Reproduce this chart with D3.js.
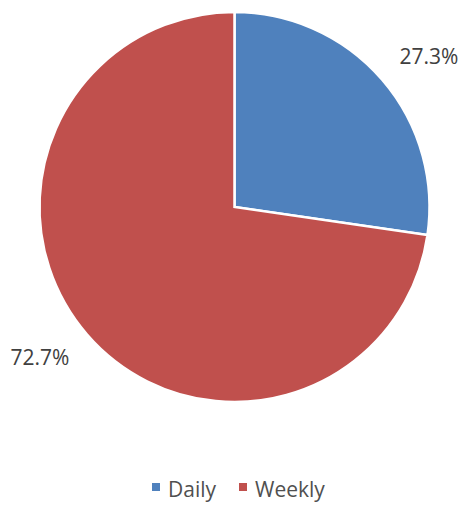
<!DOCTYPE html>
<html>
<head>
<meta charset="utf-8">
<script src="https://cdn.jsdelivr.net/npm/d3@7"></script>
<style>
  html, body { margin: 0; padding: 0; background: #fff; }
  svg { display: block; font-family: "Open Sans", "Liberation Sans", sans-serif; }
</style>
</head>
<body>
<svg id="chart" width="469" height="506"></svg>
<script>
// Share of respondents by frequency
const categories = ["Daily", "Weekly"];
const shares = [27.3, 72.7];
const colors = ["#4F81BD", "#C0504D"];

const svg = d3.select("#chart");
const cx = 234.5, cy = 207, radius = 195, labelRadius = 246;
const labelShift = 3.1 * Math.PI / 180; // labels sit slightly clockwise of the slice midpoint

const pie = d3.pie().sort(null).value(d => d.value);
const arcs = pie(categories.map((c, i) => ({ name: c, value: shares[i] })));

const arc = d3.arc().innerRadius(0).outerRadius(radius);

const g = svg.append("g").attr("transform", `translate(${cx},${cy})`);

g.selectAll("path.slice")
  .data(arcs)
  .join("path")
  .attr("class", "slice")
  .attr("d", arc)
  .attr("fill", (d, i) => colors[i])
  .attr("stroke", "#fff")
  .attr("stroke-width", 2.5)
  .attr("stroke-linejoin", "miter");

function labelPos(d) {
  const a = (d.startAngle + d.endAngle) / 2 + labelShift;
  return [labelRadius * Math.sin(a), -labelRadius * Math.cos(a)];
}

g.selectAll("text.pct")
  .data(arcs)
  .join("text")
  .attr("class", "pct")
  .attr("transform", d => `translate(${labelPos(d)})`)
  .attr("text-anchor", "middle")
  .attr("dy", "0.35em")
  .attr("font-size", 21)
  .attr("fill", "#404040")
  .text(d => d.data.value.toFixed(1) + "%");

// Legend
const legendItems = [
  { x: 152, name: categories[0], color: colors[0] },
  { x: 239, name: categories[1], color: colors[1] }
];
const legend = svg.append("g");
const items = legend.selectAll("g")
  .data(legendItems)
  .join("g")
  .attr("transform", d => `translate(${d.x},483)`);
items.append("rect")
  .attr("width", 8).attr("height", 8)
  .attr("fill", d => d.color);
items.append("text")
  .attr("x", 16).attr("y", 14)
  .attr("font-size", 21)
  .attr("fill", "#505050")
  .text(d => d.name);
</script>
</body>
</html>
